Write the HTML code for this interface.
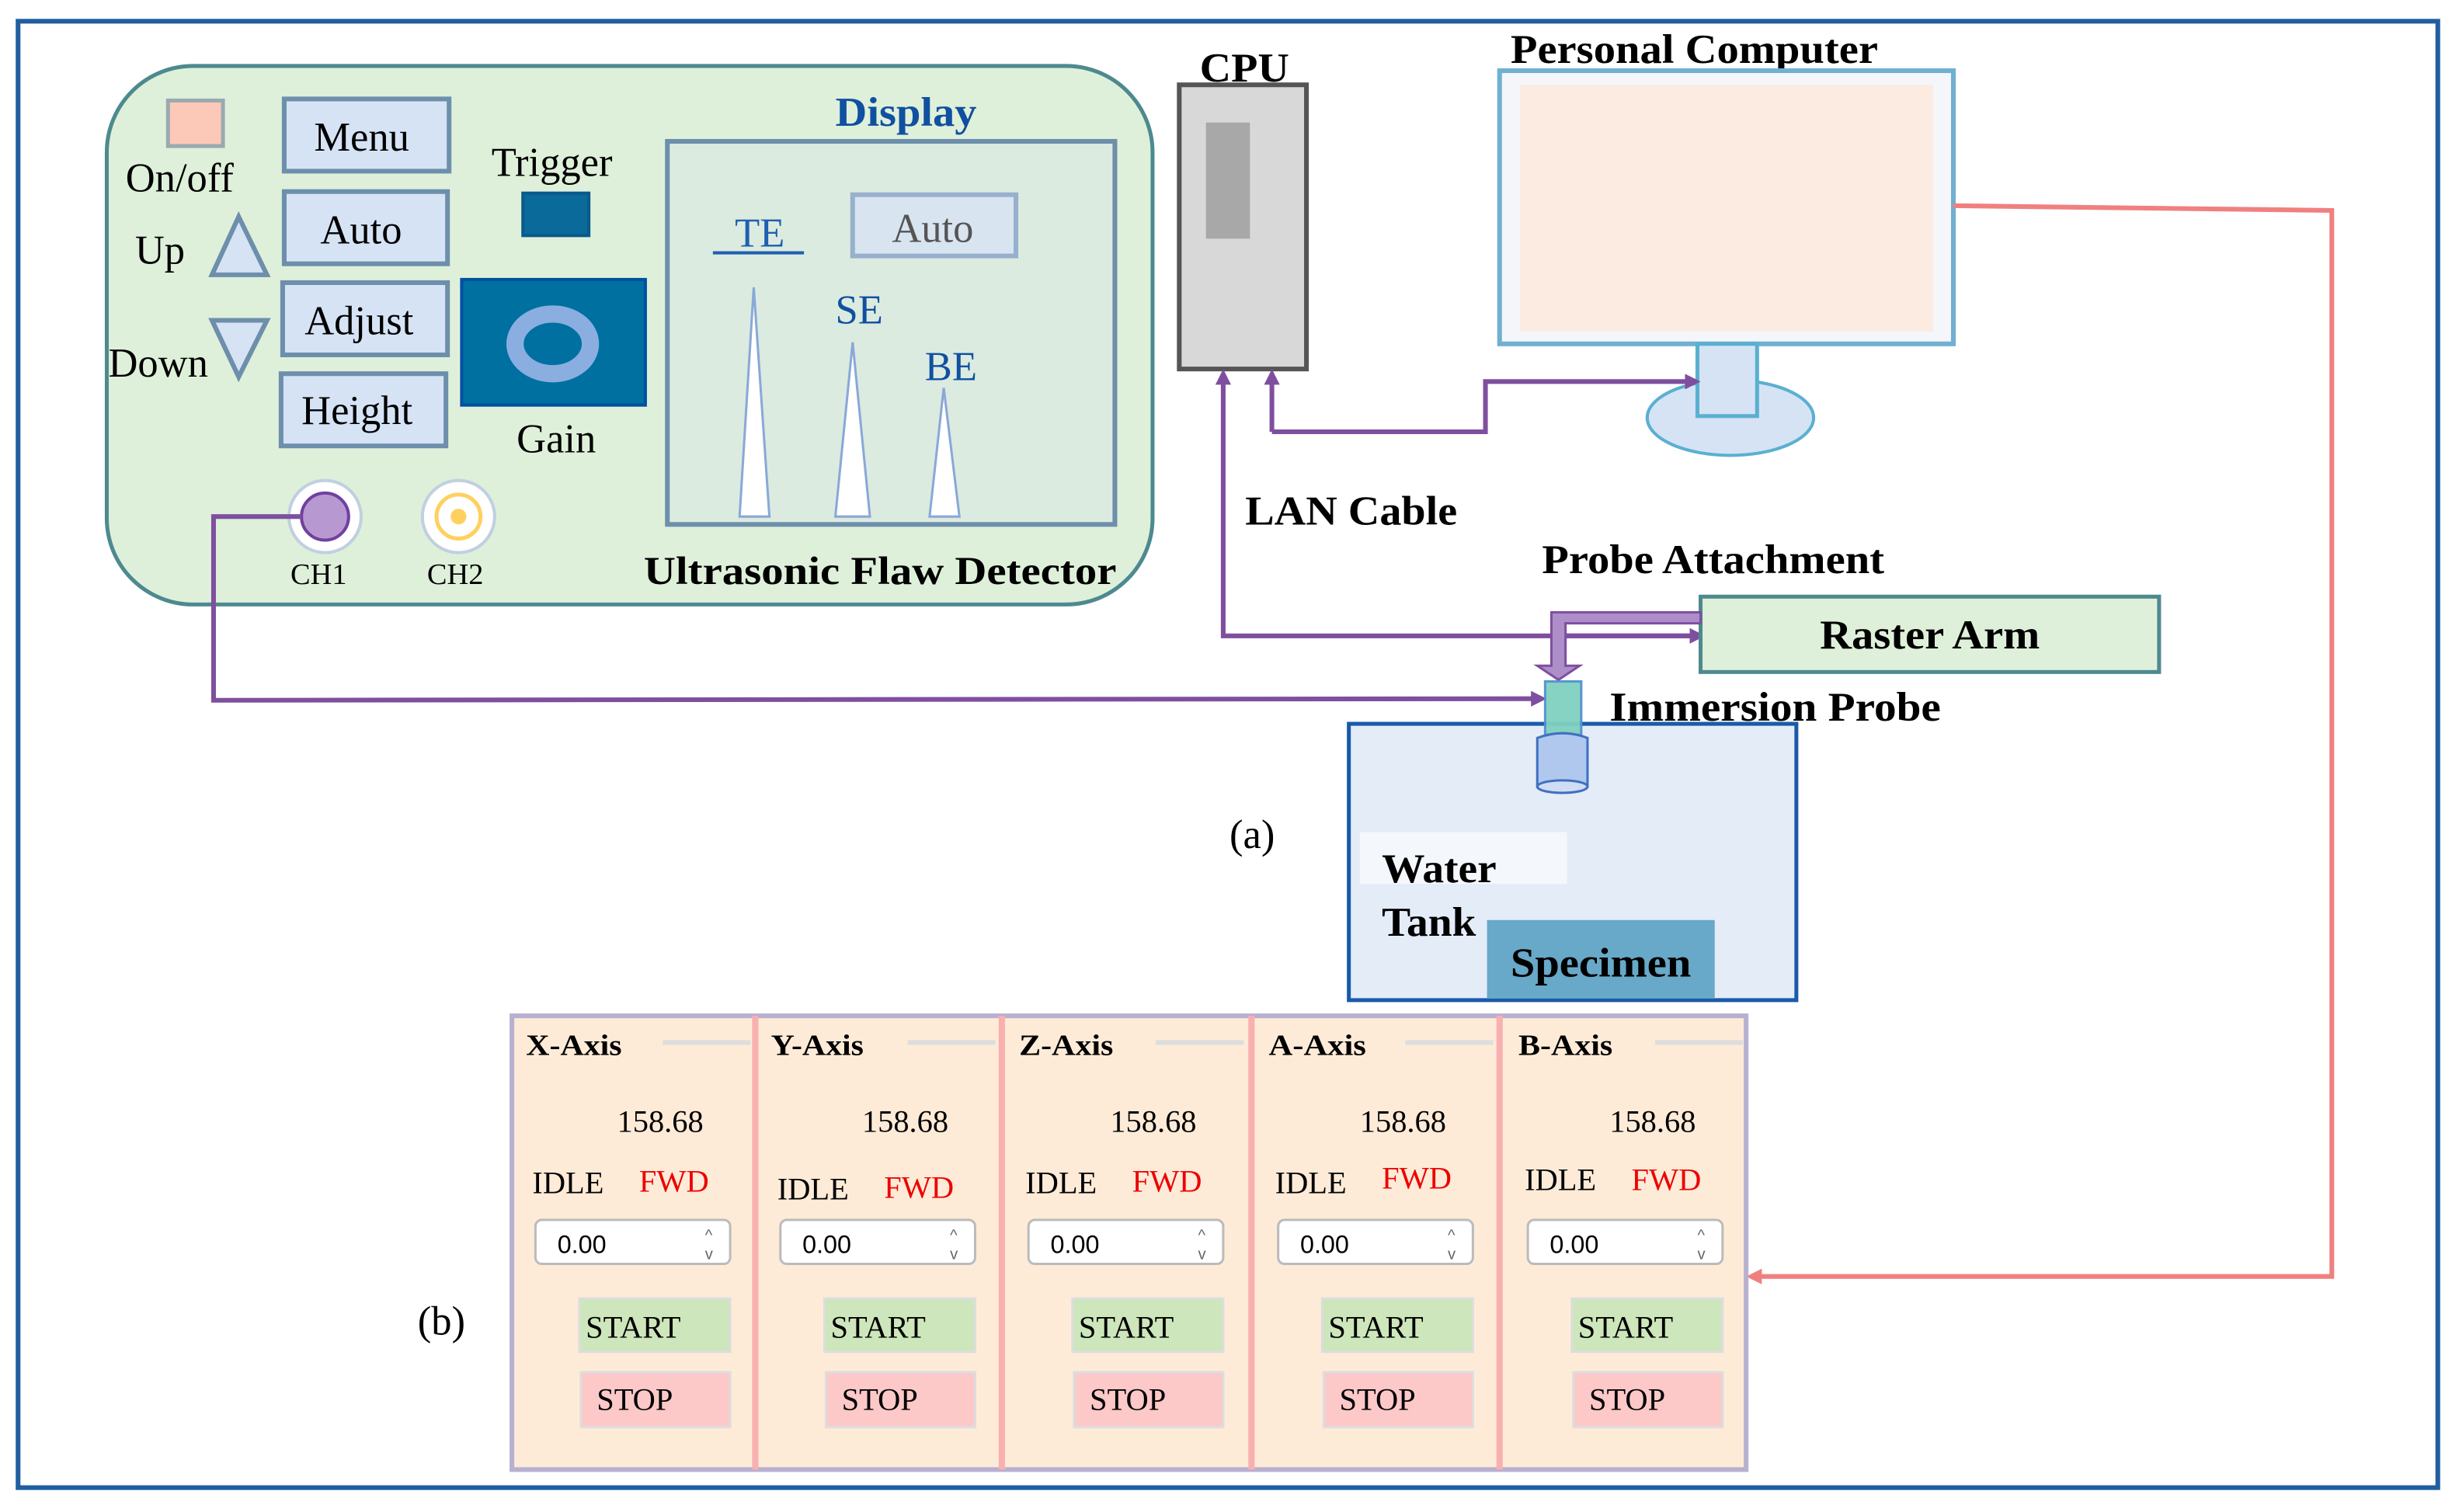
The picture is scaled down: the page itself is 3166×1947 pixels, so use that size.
<!DOCTYPE html>
<html><head><meta charset="utf-8"><style>
html,body{margin:0;padding:0;background:#fff;}
svg{display:block;}
text{font-family:"Liberation Serif",serif;}
.b{font-weight:bold;}
</style></head><body>
<svg width="3166" height="1947" viewBox="0 0 1566 963" xmlns="http://www.w3.org/2000/svg">
<defs>
<marker id="ap" markerWidth="10" markerHeight="10" refX="7" refY="5" orient="auto" markerUnits="userSpaceOnUse"><path d="M0,0 L10,5 L0,10 z" fill="#7f4f9f"/></marker>
<marker id="ar" markerWidth="10" markerHeight="10" refX="7" refY="5" orient="auto" markerUnits="userSpaceOnUse"><path d="M0,0 L10,5 L0,10 z" fill="#f08080"/></marker>
</defs>
<rect x="11.5" y="13.5" width="1541" height="934" fill="#fff" stroke="#1f5fa0" stroke-width="3"/>

<!-- detector -->
<rect x="68" y="42" width="666" height="343" rx="55" fill="#dff0da" stroke="#4d8a8f" stroke-width="2.5"/>
<rect x="107" y="64" width="35" height="29" fill="#fcc8b8" stroke="#9aaab0" stroke-width="2.5"/>
<text x="80" y="122" font-size="26">On/off</text>
<text x="86" y="168" font-size="26">Up</text>
<text x="69" y="240" font-size="26">Down</text>
<polygon points="152,138 135,175 170,175" fill="#d6e3f5" stroke="#6d8fab" stroke-width="3"/>
<polygon points="135,204 170,204 152,240" fill="#d6e3f5" stroke="#6d8fab" stroke-width="3"/>
<g fill="#d6e3f5" stroke="#6d8fab" stroke-width="3">
<rect x="181" y="63" width="105" height="46"/>
<rect x="181" y="122" width="104" height="46"/>
<rect x="180" y="180" width="105" height="46"/>
<rect x="179" y="238" width="105" height="46"/>
</g>
<text x="200" y="96" font-size="26">Menu</text>
<text x="204" y="155" font-size="26">Auto</text>
<text x="194" y="213" font-size="26">Adjust</text>
<text x="192" y="270" font-size="26">Height</text>
<text x="313" y="112" font-size="26">Trigger</text>
<rect x="333" y="123" width="42" height="27" fill="#0a6a9a" stroke="#0a5a8a" stroke-width="2"/>
<rect x="294" y="178" width="117" height="80" fill="#0070a0" stroke="#0050a0" stroke-width="2"/>
<ellipse cx="352" cy="219" rx="24" ry="19" fill="none" stroke="#8aaee0" stroke-width="11"/>
<text x="329" y="288" font-size="26">Gain</text>
<text x="532" y="80" font-size="26" class="b" fill="#1050a0" textLength="90" lengthAdjust="spacingAndGlyphs">Display</text>
<rect x="425" y="90" width="285" height="244" fill="#dcebe0" stroke="#6d8fab" stroke-width="3"/>
<text x="468" y="157" font-size="26" fill="#1e60b0">TE</text>
<line x1="454" y1="161" x2="512" y2="161" stroke="#1e60b0" stroke-width="2"/>
<rect x="543" y="124" width="104" height="39" fill="#d8e4f0" stroke="#98b0cc" stroke-width="3"/>
<text x="568" y="154" font-size="26" fill="#555">Auto</text>
<g fill="#fff" stroke="#8aa8d8" stroke-width="1.5">
<polygon points="480,183 471,329 490,329"/>
<polygon points="543,218 532,329 554,329"/>
<polygon points="601,247 592,329 611,329"/>
</g>
<text x="532" y="206" font-size="26" fill="#1050a0">SE</text>
<text x="589" y="242" font-size="26" fill="#1050a0">BE</text>
<circle cx="207" cy="329" r="23" fill="#fff" stroke="#c0d0e0" stroke-width="2"/>
<circle cx="207" cy="329" r="15" fill="#b898d0" stroke="#7040a0" stroke-width="2"/>
<circle cx="292" cy="329" r="23" fill="#fff" stroke="#c0d0e0" stroke-width="2"/>
<circle cx="292" cy="329" r="14" fill="#fff" stroke="#ffd060" stroke-width="2.5"/>
<circle cx="292" cy="329" r="5" fill="#ffd060"/>
<text x="185" y="372" font-size="19">CH1</text>
<text x="272" y="372" font-size="19">CH2</text>
<text x="410" y="372" font-size="25" class="b" textLength="301" lengthAdjust="spacingAndGlyphs">Ultrasonic Flaw Detector</text>

<!-- CH1 wire -->
<polyline points="192,329 136,329 136,446 982,445" fill="none" stroke="#7f4f9f" stroke-width="3" marker-end="url(#ap)"/>

<!-- CPU -->
<text x="764" y="52" font-size="26" class="b" textLength="57" lengthAdjust="spacingAndGlyphs">CPU</text>
<rect x="751" y="54" width="81" height="181" fill="#d8d8d8" stroke="#555" stroke-width="3"/>
<rect x="768" y="78" width="28" height="74" fill="#a8a8a8"/>

<!-- PC -->
<text x="962" y="40" font-size="26" class="b" textLength="234" lengthAdjust="spacingAndGlyphs">Personal Computer</text>
<rect x="955" y="45" width="289" height="174" fill="#f4f6fa" stroke="#70b0d0" stroke-width="3"/>
<rect x="968" y="54" width="263" height="157" fill="#fcebe0"/>
<ellipse cx="1102" cy="266" rx="53" ry="24" fill="#d6e3f5" stroke="#5ab0d0" stroke-width="2"/>
<rect x="1081" y="219" width="38" height="46" fill="#d6e3f5" stroke="#5ab0d0" stroke-width="2.5"/>

<polyline points="810,275 946,275 946,243 1080,243" fill="none" stroke="#7f4f9f" stroke-width="3" marker-end="url(#ap)"/>
<polyline points="810,275 810,238" fill="none" stroke="#7f4f9f" stroke-width="3" marker-end="url(#ap)"/>
<polyline points="1083,405 779,405 779,238" fill="none" stroke="#7f4f9f" stroke-width="3" marker-end="url(#ap)"/>
<polyline points="990,405 1083,405" fill="none" stroke="#7f4f9f" stroke-width="3" marker-end="url(#ap)"/>
<text x="793" y="334" font-size="26" class="b" textLength="135" lengthAdjust="spacingAndGlyphs">LAN Cable</text>
<text x="982" y="365" font-size="26" class="b" textLength="218" lengthAdjust="spacingAndGlyphs">Probe Attachment</text>

<rect x="1083" y="380" width="292" height="48" fill="#dff0da" stroke="#4d8a8f" stroke-width="2.5"/>
<text x="1159" y="413" font-size="26" class="b" textLength="140" lengthAdjust="spacingAndGlyphs">Raster Arm</text>
<polygon points="1083,390 988,390 988,424 979,424 992.5,433 1006,424 997,424 997,397 1083,397" fill="#ad8ec8" stroke="#7f4f9f" stroke-width="1.5"/>

<text x="1025" y="459" font-size="26" class="b" textLength="211" lengthAdjust="spacingAndGlyphs">Immersion Probe</text>
<rect x="859" y="461" width="285" height="176" fill="#e4ecf8" stroke="#1a5aa8" stroke-width="2.5"/>
<rect x="984" y="434" width="23" height="34" fill="#80d0c0" stroke="#5090d0" stroke-width="1.5" opacity="0.95"/>
<path d="M979,470 Q995,464 1011,470 L1011,501 L979,501 Z" fill="#b0c8ee" stroke="#4070c0" stroke-width="1.5"/>
<ellipse cx="995" cy="501" rx="16" ry="4" fill="#d0ddf4" stroke="#4070c0" stroke-width="1.5"/>
<rect x="866" y="530" width="132" height="33" fill="#f4f7fc"/>
<text x="880" y="562" font-size="26" class="b" textLength="73" lengthAdjust="spacingAndGlyphs">Water</text>
<text x="880" y="596" font-size="26" class="b" textLength="60" lengthAdjust="spacingAndGlyphs">Tank</text>
<rect x="947" y="586" width="145" height="50" fill="#68a8c8"/>
<text x="962" y="622" font-size="26" class="b" textLength="115" lengthAdjust="spacingAndGlyphs">Specimen</text>
<text x="783" y="540" font-size="26">(a)</text>

<!-- red wire -->
<polyline points="1244,131 1485,134 1485,813 1115,813" fill="none" stroke="#f08080" stroke-width="3" marker-end="url(#ar)"/>

<!-- panel -->
<text x="266" y="850" font-size="26">(b)</text>
<rect x="326" y="647" width="786" height="289" fill="#fdebd8" stroke="#b8b0d0" stroke-width="3"/>
<g stroke="#f8b0b0" stroke-width="4">
<line x1="481" y1="647" x2="481" y2="936"/>
<line x1="638" y1="647" x2="638" y2="936"/>
<line x1="797" y1="647" x2="797" y2="936"/>
<line x1="955" y1="647" x2="955" y2="936"/>
</g>
<g font-size="20">
<g transform="translate(325,0)">
<text x="10" y="672" font-size="19" class="b" textLength="61" lengthAdjust="spacingAndGlyphs">X-Axis</text>
<line x1="97" y1="664" x2="153" y2="664" stroke="#ddd" stroke-width="3"/>
<text x="68" y="721">158.68</text>
<text x="14" y="760">IDLE</text><text x="82" y="759" fill="#e00">FWD</text>
<rect x="16" y="777" width="124" height="28" rx="4" fill="#fff" stroke="#bbb" stroke-width="1.5"/>
<text x="30" y="798" font-size="16" style="font-family:'Liberation Sans',sans-serif">0.00</text>
<text x="124" y="790" font-size="10" fill="#666" style="font-family:'Liberation Sans',sans-serif">^</text>
<text x="124" y="802" font-size="10" fill="#666" style="font-family:'Liberation Sans',sans-serif">v</text>
<rect x="44" y="827" width="96" height="34" fill="#cde6bb" stroke="#ddd" stroke-width="1.5"/>
<text x="48" y="852">START</text>
<rect x="45" y="874" width="95" height="35" fill="#fcc8c8" stroke="#ddd" stroke-width="1.5"/>
<text x="55" y="898">STOP</text>
</g>
<g transform="translate(481,0)">
<text x="10" y="672" font-size="19" class="b" textLength="59" lengthAdjust="spacingAndGlyphs">Y-Axis</text>
<line x1="97" y1="664" x2="153" y2="664" stroke="#ddd" stroke-width="3"/>
<text x="68" y="721">158.68</text>
<text x="14" y="764">IDLE</text><text x="82" y="763" fill="#e00">FWD</text>
<rect x="16" y="777" width="124" height="28" rx="4" fill="#fff" stroke="#bbb" stroke-width="1.5"/>
<text x="30" y="798" font-size="16" style="font-family:'Liberation Sans',sans-serif">0.00</text>
<text x="124" y="790" font-size="10" fill="#666" style="font-family:'Liberation Sans',sans-serif">^</text>
<text x="124" y="802" font-size="10" fill="#666" style="font-family:'Liberation Sans',sans-serif">v</text>
<rect x="44" y="827" width="96" height="34" fill="#cde6bb" stroke="#ddd" stroke-width="1.5"/>
<text x="48" y="852">START</text>
<rect x="45" y="874" width="95" height="35" fill="#fcc8c8" stroke="#ddd" stroke-width="1.5"/>
<text x="55" y="898">STOP</text>
</g>
<g transform="translate(639,0)">
<text x="10" y="672" font-size="19" class="b" textLength="60" lengthAdjust="spacingAndGlyphs">Z-Axis</text>
<line x1="97" y1="664" x2="153" y2="664" stroke="#ddd" stroke-width="3"/>
<text x="68" y="721">158.68</text>
<text x="14" y="760">IDLE</text><text x="82" y="759" fill="#e00">FWD</text>
<rect x="16" y="777" width="124" height="28" rx="4" fill="#fff" stroke="#bbb" stroke-width="1.5"/>
<text x="30" y="798" font-size="16" style="font-family:'Liberation Sans',sans-serif">0.00</text>
<text x="124" y="790" font-size="10" fill="#666" style="font-family:'Liberation Sans',sans-serif">^</text>
<text x="124" y="802" font-size="10" fill="#666" style="font-family:'Liberation Sans',sans-serif">v</text>
<rect x="44" y="827" width="96" height="34" fill="#cde6bb" stroke="#ddd" stroke-width="1.5"/>
<text x="48" y="852">START</text>
<rect x="45" y="874" width="95" height="35" fill="#fcc8c8" stroke="#ddd" stroke-width="1.5"/>
<text x="55" y="898">STOP</text>
</g>
<g transform="translate(798,0)">
<text x="10" y="672" font-size="19" class="b" textLength="62" lengthAdjust="spacingAndGlyphs">A-Axis</text>
<line x1="97" y1="664" x2="153" y2="664" stroke="#ddd" stroke-width="3"/>
<text x="68" y="721">158.68</text>
<text x="14" y="760">IDLE</text><text x="82" y="757" fill="#e00">FWD</text>
<rect x="16" y="777" width="124" height="28" rx="4" fill="#fff" stroke="#bbb" stroke-width="1.5"/>
<text x="30" y="798" font-size="16" style="font-family:'Liberation Sans',sans-serif">0.00</text>
<text x="124" y="790" font-size="10" fill="#666" style="font-family:'Liberation Sans',sans-serif">^</text>
<text x="124" y="802" font-size="10" fill="#666" style="font-family:'Liberation Sans',sans-serif">v</text>
<rect x="44" y="827" width="96" height="34" fill="#cde6bb" stroke="#ddd" stroke-width="1.5"/>
<text x="48" y="852">START</text>
<rect x="45" y="874" width="95" height="35" fill="#fcc8c8" stroke="#ddd" stroke-width="1.5"/>
<text x="55" y="898">STOP</text>
</g>
<g transform="translate(957,0)">
<text x="10" y="672" font-size="19" class="b" textLength="60" lengthAdjust="spacingAndGlyphs">B-Axis</text>
<line x1="97" y1="664" x2="153" y2="664" stroke="#ddd" stroke-width="3"/>
<text x="68" y="721">158.68</text>
<text x="14" y="758">IDLE</text><text x="82" y="758" fill="#e00">FWD</text>
<rect x="16" y="777" width="124" height="28" rx="4" fill="#fff" stroke="#bbb" stroke-width="1.5"/>
<text x="30" y="798" font-size="16" style="font-family:'Liberation Sans',sans-serif">0.00</text>
<text x="124" y="790" font-size="10" fill="#666" style="font-family:'Liberation Sans',sans-serif">^</text>
<text x="124" y="802" font-size="10" fill="#666" style="font-family:'Liberation Sans',sans-serif">v</text>
<rect x="44" y="827" width="96" height="34" fill="#cde6bb" stroke="#ddd" stroke-width="1.5"/>
<text x="48" y="852">START</text>
<rect x="45" y="874" width="95" height="35" fill="#fcc8c8" stroke="#ddd" stroke-width="1.5"/>
<text x="55" y="898">STOP</text>
</g>
</g>
</svg>
</body></html>
